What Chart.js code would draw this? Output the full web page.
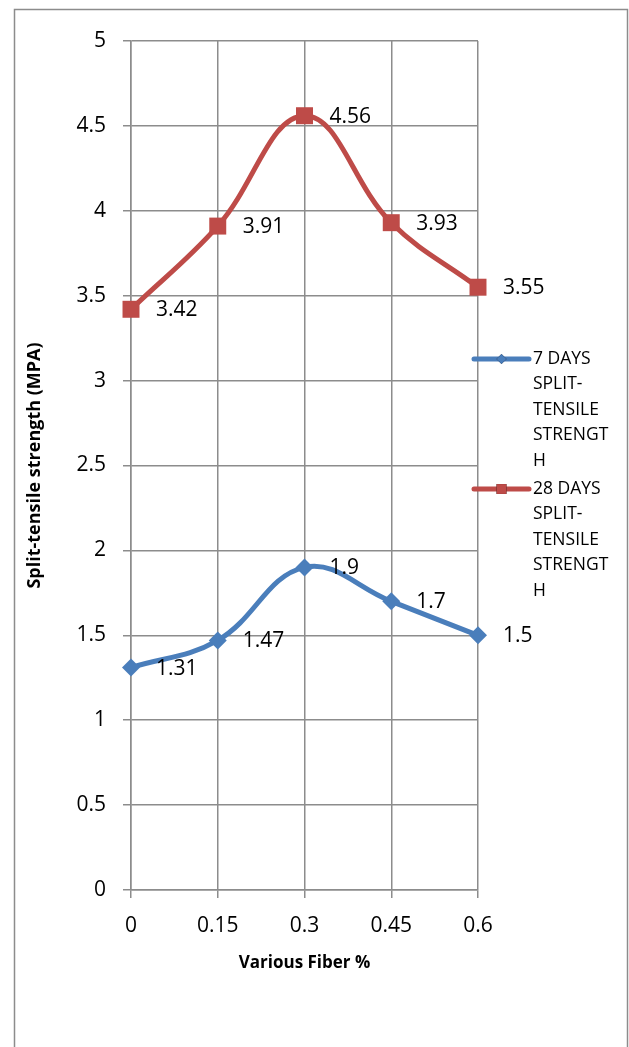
<!DOCTYPE html>
<html>
<head>
<meta charset="utf-8">
<script src="https://cdn.jsdelivr.net/npm/chart.js@4"></script>
<style>
  html, body { margin: 0; padding: 0; background: #ffffff; }
  #wrap { position: relative; width: 629px; height: 1047px; }
</style>
</head>
<body>
<div id="wrap"><canvas id="myChart"></canvas></div>
<script>
// dados
const fiberLabels = ['0', '0.15', '0.3', '0.45', '0.6'];
const days7 = [1.31, 1.47, 1.9, 1.7, 1.5];
const days28 = [3.42, 3.91, 4.56, 3.93, 3.55];
const seriesNames = ['7 DAYS SPLIT-TENSILE STRENGTH', '28 DAYS SPLIT-TENSILE STRENGTH'];
// legenda quebrada como no Excel
const legendLines = [
    ['7 DAYS', 'SPLIT-', 'TENSILE', 'STRENGT', 'H'],
    ['28 DAYS', 'SPLIT-', 'TENSILE', 'STRENGT', 'H']
];

const blue = '#4A7EBB';
const red = '#BE4B48';
const gridColor = '#8c8c8c';
const fontFamily = "'Open Sans', sans-serif";

// moldura cinza em volta do gráfico
const framePlugin = {
    id: 'frame',
    beforeDraw(chart) {
        const ctx = chart.ctx;
        ctx.save();
        ctx.strokeStyle = gridColor;
        ctx.lineWidth = 1.5;
        ctx.strokeRect(14.5, 9.5, 613, 1060);
        ctx.restore();
    }
};

// rótulos de valor à direita dos pontos
const valueLabels = {
    id: 'valueLabels',
    afterDatasetsDraw(chart) {
        const ctx = chart.ctx;
        ctx.save();
        ctx.font = '21px ' + fontFamily;
        ctx.fillStyle = '#000';
        ctx.textAlign = 'left';
        ctx.textBaseline = 'middle';
        chart.data.datasets.forEach((ds, i) => {
            chart.getDatasetMeta(i).data.forEach((pt, j) => {
                ctx.fillText(String(ds.data[j]), pt.x + 25, pt.y + 1);
            });
        });
        ctx.restore();
    }
};

// legenda à direita, com texto em várias linhas
const sideLegend = {
    id: 'sideLegend',
    afterDraw(chart) {
        const ctx = chart.ctx;
        const x0 = 474, x1 = 529, tx = 533;
        const starts = [359, 489];
        const lh = 25.5;
        ctx.save();
        chart.data.datasets.forEach((ds, i) => {
            const y = starts[i];
            ctx.strokeStyle = ds.borderColor;
            ctx.lineWidth = 5;
            ctx.lineCap = 'round';
            ctx.beginPath();
            ctx.moveTo(x0, y);
            ctx.lineTo(x1, y);
            ctx.stroke();
            Chart.helpers.drawPoint(ctx, {
                pointStyle: ds.pointStyle,
                radius: i === 0 ? 5 : 7,
                rotation: 0
            }, (x0 + x1) / 2, y);
            ctx.fillStyle = ds.borderColor;
            ctx.fill();
            ctx.fillStyle = '#000';
            ctx.font = '17.5px ' + fontFamily;
            ctx.textAlign = 'left';
            ctx.textBaseline = 'middle';
            legendLines[i].forEach((t, k) => ctx.fillText(t, tx, y + k * lh));
        });
        ctx.restore();
    }
};

const ctx = document.getElementById('myChart').getContext('2d');
const chart = new Chart(ctx, {
    type: 'line',
    data: {
        labels: fiberLabels,
        datasets: [
            {
                label: seriesNames[0],
                data: days7,
                borderColor: blue,
                backgroundColor: blue,
                borderWidth: 5,
                tension: 0.4,
                pointStyle: 'rectRot',
                pointRadius: 9,
                pointHoverRadius: 9,
                pointBorderWidth: 0
            },
            {
                label: seriesNames[1],
                data: days28,
                borderColor: red,
                backgroundColor: red,
                borderWidth: 5,
                tension: 0.4,
                pointStyle: 'rect',
                pointRadius: 12,
                pointHoverRadius: 12,
                pointBorderWidth: 0
            }
        ]
    },
    options: {
        responsive: true,
        maintainAspectRatio: false,
        animation: false,
        layout: { padding: { left: 0, top: 41, right: 151, bottom: 0 } },
        plugins: {
            legend: { display: false },
            tooltip: { enabled: false }
        },
        scales: {
            x: {
                type: 'category',
                offset: false,
                afterFit: (scale) => { scale.height = 157; },
                grid: { color: gridColor, lineWidth: 1.5, tickLength: 8, drawTicks: true },
                border: { color: gridColor, width: 1.5 },
                ticks: { color: '#000', padding: 15, font: { family: fontFamily, size: 21 } },
                title: {
                    display: true,
                    text: 'Various Fiber %',
                    color: '#000',
                    font: { family: fontFamily, size: 17, weight: 'bold' },
                    padding: { top: 0, bottom: 74 }
                }
            },
            y: {
                min: 0,
                max: 5,
                afterFit: (scale) => { scale.width = 131; },
                grid: { color: gridColor, lineWidth: 1.5, tickLength: 8, drawTicks: true },
                border: { color: gridColor, width: 1.5 },
                ticks: {
                    stepSize: 0.5,
                    color: '#000',
                    padding: 17,
                    font: { family: fontFamily, size: 21 },
                    callback: (value) => String(value)
                },
                title: {
                    display: true,
                    text: 'Split-tensile strength (MPA)',
                    color: '#000',
                    font: { family: fontFamily, size: 18, weight: 'bold' },
                    padding: { top: 24, bottom: 0 }
                }
            }
        }
    },
    plugins: [framePlugin, valueLabels, sideLegend]
});
</script>
</body>
</html>
